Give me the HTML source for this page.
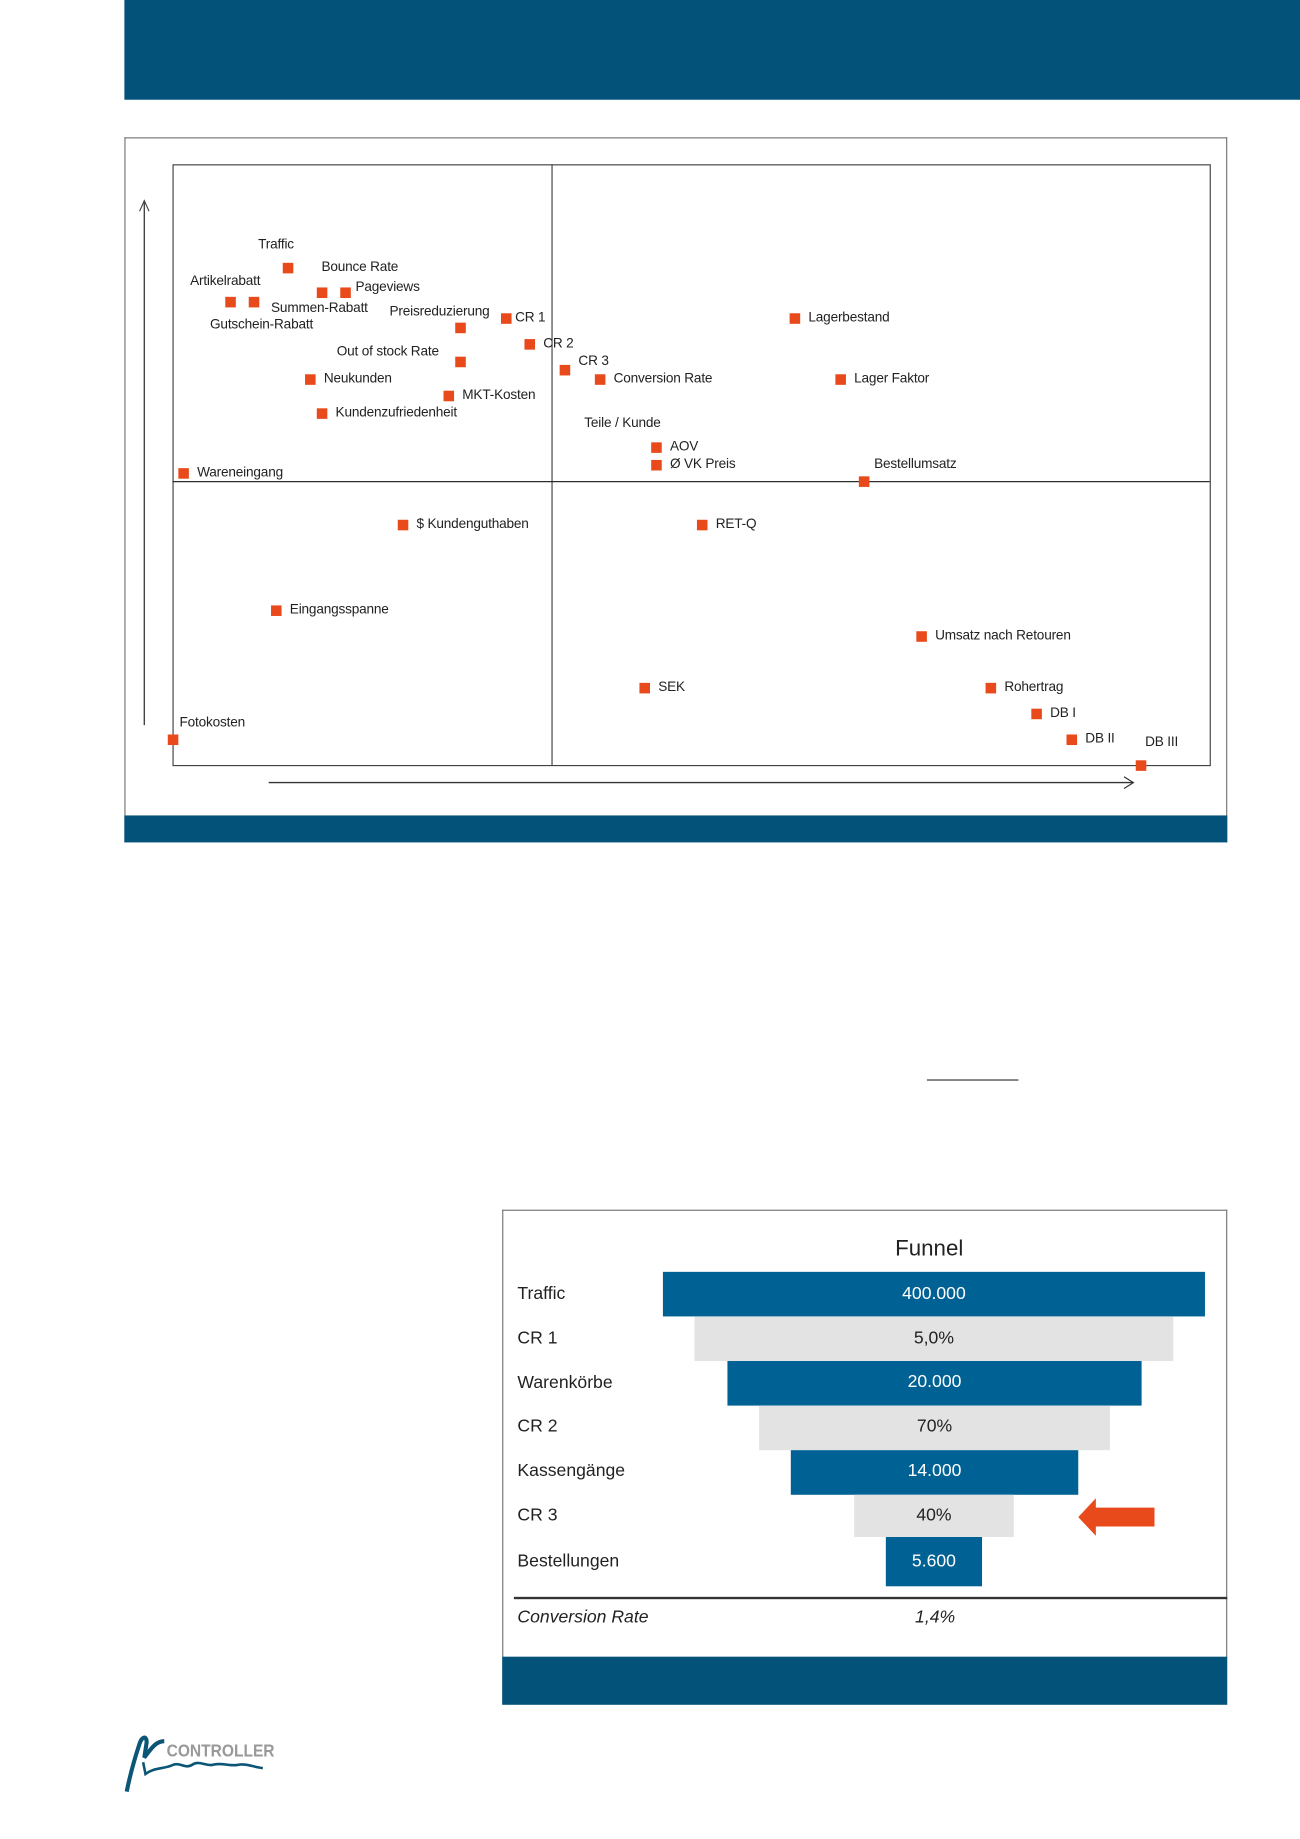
<!DOCTYPE html>
<html><head><meta charset="utf-8"><style>
html,body{margin:0;padding:0;background:#fff;}
body{width:1300px;height:1839px;overflow:hidden;position:relative;}
#w{position:absolute;left:0;top:0;width:1108px;height:1567px;transform:scale(1.17329);transform-origin:0 0;font-family:"Liberation Sans",Arial,sans-serif;color:#222;}
.a{position:absolute;}
.s{position:absolute;width:9px;height:9px;background:#e84a1b;margin:-4.5px 0 0 -4.5px;}
.l{position:absolute;font-size:11.6px;line-height:14px;margin-top:-7px;white-space:nowrap;letter-spacing:-0.15px;}
.bar{position:absolute;color:#fff;font-size:15px;text-align:center;}
.g{background:#e3e3e3;color:#222;}
.b{background:#006194;}
.fl{position:absolute;left:441px;font-size:15px;line-height:18px;margin-top:-9px;}
</style></head><body><div id="w">
<div class="a" style="left:106px;top:0;width:1002px;height:85px;background:#03527a"></div>
<div class="a" style="left:106px;top:117px;width:938px;height:600px;border:1px solid #777;border-bottom:none"></div>
<div class="a" style="left:106px;top:695px;width:940px;height:23px;background:#03527a"></div>
<div class="a" style="left:147px;top:140px;width:883px;height:511px;border:1px solid #444"></div>
<div class="a" style="left:470px;top:140px;width:1px;height:512px;background:#444"></div>
<div class="a" style="left:147px;top:410px;width:884px;height:1px;background:#222"></div>
<svg class="a" style="left:0;top:0" width="1108" height="720">
<line x1="123" y1="618" x2="123" y2="171" stroke="#444" stroke-width="1.2"/>
<polyline points="119,180 123,171 127,180" fill="none" stroke="#444" stroke-width="1"/>
<line x1="229" y1="667" x2="966" y2="667" stroke="#333" stroke-width="1.2"/>
<polyline points="958,662 966,667 958,672" fill="none" stroke="#333" stroke-width="1"/>
</svg>
<div class="s" style="left:245px;top:228px"></div><div class="l" style="left:220px;top:209px">Traffic</div>
<div class="l" style="left:274px;top:228px">Bounce Rate</div>
<div class="s" style="left:274px;top:249px"></div><div class="s" style="left:294px;top:249px"></div><div class="l" style="left:303px;top:245px">Pageviews</div>
<div class="l" style="left:162px;top:240px">Artikelrabatt</div>
<div class="s" style="left:196px;top:257px"></div><div class="s" style="left:216px;top:257px"></div>
<div class="l" style="left:231px;top:263px">Summen-Rabatt</div>
<div class="l" style="left:179px;top:277px">Gutschein-Rabatt</div>
<div class="l" style="left:332px;top:266px">Preisreduzierung</div><div class="s" style="left:392px;top:279px"></div>
<div class="s" style="left:431px;top:271px"></div><div class="l" style="left:439px;top:271px">CR 1</div>
<div class="s" style="left:451px;top:293px"></div><div class="l" style="left:463px;top:293px">CR 2</div>
<div class="l" style="left:287px;top:300px">Out of stock Rate</div><div class="s" style="left:392px;top:308px"></div>
<div class="s" style="left:481px;top:315px"></div><div class="l" style="left:493px;top:308px">CR 3</div>
<div class="s" style="left:511px;top:323px"></div><div class="l" style="left:523px;top:323px">Conversion Rate</div>
<div class="s" style="left:264px;top:323px"></div><div class="l" style="left:276px;top:323px">Neukunden</div>
<div class="s" style="left:382px;top:337px"></div><div class="l" style="left:394px;top:337px">MKT-Kosten</div>
<div class="s" style="left:274px;top:352px"></div><div class="l" style="left:286px;top:352px">Kundenzufriedenheit</div>
<div class="s" style="left:677px;top:271px"></div><div class="l" style="left:689px;top:271px">Lagerbestand</div>
<div class="s" style="left:716px;top:323px"></div><div class="l" style="left:728px;top:323px">Lager Faktor</div>
<div class="l" style="left:498px;top:361px">Teile / Kunde</div>
<div class="s" style="left:559px;top:381px"></div><div class="l" style="left:571px;top:381px">AOV</div>
<div class="s" style="left:559px;top:396px"></div><div class="l" style="left:571px;top:396px">Ø VK Preis</div>
<div class="s" style="left:156px;top:403px"></div><div class="l" style="left:168px;top:403px">Wareneingang</div>
<div class="s" style="left:736px;top:410px"></div><div class="l" style="left:745px;top:396px">Bestellumsatz</div>
<div class="s" style="left:343px;top:447px"></div><div class="l" style="left:355px;top:447px">$ Kundenguthaben</div>
<div class="s" style="left:598px;top:447px"></div><div class="l" style="left:610px;top:447px">RET-Q</div>
<div class="s" style="left:235px;top:520px"></div><div class="l" style="left:247px;top:520px">Eingangsspanne</div>
<div class="s" style="left:785px;top:542px"></div><div class="l" style="left:797px;top:542px">Umsatz nach Retouren</div>
<div class="s" style="left:549px;top:586px"></div><div class="l" style="left:561px;top:586px">SEK</div>
<div class="s" style="left:844px;top:586px"></div><div class="l" style="left:856px;top:586px">Rohertrag</div>
<div class="s" style="left:883px;top:608px"></div><div class="l" style="left:895px;top:608px">DB I</div>
<div class="s" style="left:913px;top:630px"></div><div class="l" style="left:925px;top:630px">DB II</div>
<div class="s" style="left:972px;top:652px"></div><div class="l" style="left:976px;top:633px">DB III</div>
<div class="s" style="left:147px;top:630px"></div><div class="l" style="left:153px;top:616px">Fotokosten</div>

<div class="a" style="left:790px;top:920px;width:78px;height:1px;background:#333"></div>

<div class="a" style="left:428px;top:1031px;width:616px;height:381px;border:1px solid #777;border-bottom:none"></div>
<div class="a" style="left:428px;top:1412px;width:618px;height:41px;background:#03527a"></div>
<div class="a" style="left:692px;top:1053px;width:200px;text-align:center;font-size:19px;line-height:24px">Funnel</div>
<div class="bar b" style="left:565px;top:1084px;width:462px;height:38px;line-height:38px">400.000</div>
<div class="bar g" style="left:592px;top:1122px;width:408px;height:38px;line-height:38px">5,0%</div>
<div class="bar b" style="left:620px;top:1160px;width:353px;height:38px;line-height:36px">20.000</div>
<div class="bar g" style="left:647px;top:1198px;width:299px;height:38px;line-height:36px">70%</div>
<div class="bar b" style="left:674px;top:1236px;width:245px;height:38px;line-height:36px">14.000</div>
<div class="bar g" style="left:728px;top:1274px;width:136px;height:36px;line-height:36px">40%</div>
<div class="bar b" style="left:755px;top:1310px;width:82px;height:42px;line-height:42px">5.600</div>
<div class="fl" style="top:1103px">Traffic</div>
<div class="fl" style="top:1141px">CR 1</div>
<div class="fl" style="top:1179px">Warenkörbe</div>
<div class="fl" style="top:1216px">CR 2</div>
<div class="fl" style="top:1254px">Kassengänge</div>
<div class="fl" style="top:1292px">CR 3</div>
<div class="fl" style="top:1331px">Bestellungen</div>
<div class="a" style="left:438px;top:1361px;width:608px;height:2px;background:#333"></div>
<div class="fl" style="top:1379px;font-style:italic">Conversion Rate</div>
<div class="a" style="left:747px;top:1370px;width:100px;text-align:center;font-size:15px;font-style:italic;line-height:18px">1,4%</div>
<svg class="a" style="left:915px;top:1274px" width="75" height="40"><polygon points="4,19 19,3 19,11 69,11 69,27 19,27 19,35" fill="#e84a1b"/></svg>

<svg class="a" style="left:100px;top:1470px" width="150" height="65">
<path d="M8,57 C11,42 15,28 19,16 C21,10 25,9 25,15 L23,28 C29,20 33,14 40,14" fill="none" stroke="#0b5577" stroke-width="3.5"/>
<path d="M22,32 L24,42 C32,36 40,38 48,34 C54,32 58,38 64,34 C70,30 76,36 82,34 C90,32 96,36 104,34 C110,33 116,36 124,37" fill="none" stroke="#0b5577" stroke-width="2.2"/>
<text x="42" y="27" font-family="Liberation Sans" font-weight="bold" font-size="15" fill="#999" textLength="92" lengthAdjust="spacingAndGlyphs">CONTROLLER</text>
</svg>
</div></body></html>
